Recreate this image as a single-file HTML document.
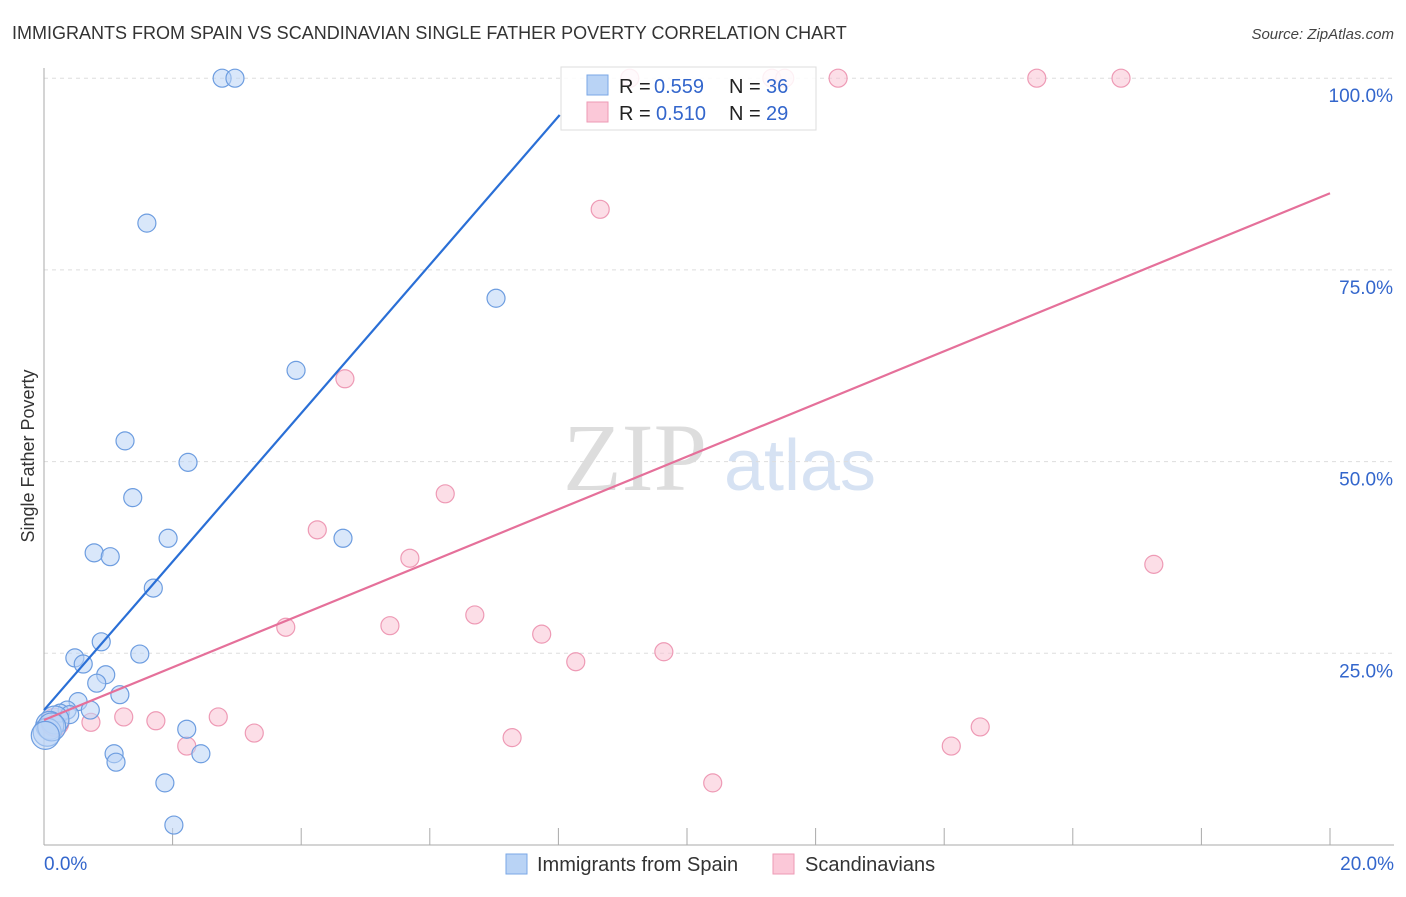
<!DOCTYPE html>
<html><head><meta charset="utf-8"><style>
body{margin:0;background:#fff;font-family:"Liberation Sans",sans-serif}
</style></head><body>
<svg width="1406" height="892" xmlns="http://www.w3.org/2000/svg" font-family="Liberation Sans, sans-serif">
<text x="12" y="39" font-size="18" fill="#333">IMMIGRANTS FROM SPAIN VS SCANDINAVIAN SINGLE FATHER POVERTY CORRELATION CHART</text>
<text x="1394" y="39" font-size="15" fill="#444" text-anchor="end" font-style="italic">Source: ZipAtlas.com</text>
<text x="34" y="456" font-size="18" fill="#333" text-anchor="middle" transform="rotate(-90 34 456)">Single Father Poverty</text>
<g><text x="635" y="490" font-size="96" fill="#ddd" font-family="Liberation Serif, serif" text-anchor="middle">ZIP</text><text x="800" y="490" font-size="72" fill="#d6e2f3" text-anchor="middle">atlas</text></g>
<g id="grid"></g><g id="axes"></g><g id="marks"></g>
<g>
<rect x="561" y="67" width="255" height="63" fill="#fff" fill-opacity="0.85" stroke="#ddd"/>
<rect x="587" y="75" width="21" height="20" fill="#b9d3f5" stroke="#7aa7e6"/>
<rect x="587" y="102" width="21" height="20" fill="#fbc8d8" stroke="#ee9ab5"/>
<text x="619" y="93" font-size="20" fill="#222">R =</text>
<text x="654" y="93" font-size="20" fill="#3366cc">0.559</text>
<text x="729" y="93" font-size="20" fill="#222">N =</text>
<text x="766" y="93" font-size="20" fill="#3366cc">36</text>
<text x="619" y="120" font-size="20" fill="#222">R =</text>
<text x="656" y="120" font-size="20" fill="#3366cc">0.510</text>
<text x="729" y="120" font-size="20" fill="#222">N =</text>
<text x="766" y="120" font-size="20" fill="#3366cc">29</text>
</g>
<g>
<rect x="506" y="854" width="21" height="20" fill="#b9d3f5" stroke="#7aa7e6"/>
<text x="537" y="871" font-size="20" fill="#333">Immigrants from Spain</text>
<rect x="773" y="854" width="21" height="20" fill="#fbc8d8" stroke="#ee9ab5"/>
<text x="805" y="871" font-size="20" fill="#333">Scandinavians</text>
</g>
</svg>
<script>
const blueX=[2.77,2.97,1.60,7.03,3.92,1.26,2.24,1.38,1.93,4.65,0.78,1.03,1.70,0.89,0.48,1.49,0.61,0.96,0.82,1.18,0.53,0.36,0.72,0.25,0.40,0.17,0.09,0.05,2.22,1.09,1.12,2.44,1.88,2.02,0.12,0.02];
const blueY=[100,100,81.1,71.3,61.9,52.7,49.9,45.3,40.0,40.0,38.1,37.6,33.5,26.5,24.4,24.9,23.6,22.2,21.1,19.6,18.7,17.6,17.6,17.2,17.0,16.3,15.6,14.7,15.1,11.9,10.8,11.9,8.1,2.6,15.4,14.3];
const pinkX=[9.11,11.32,11.52,12.35,15.44,16.75,8.65,4.68,6.24,4.25,5.69,17.26,3.76,5.38,6.70,7.74,8.27,9.64,1.24,1.74,2.71,0.73,2.22,3.27,7.28,14.11,14.56,10.40,0.17];
const pinkY=[100,100,100,100,100,100,82.9,60.8,45.8,41.1,37.4,36.6,28.4,28.6,30.0,27.5,23.9,25.2,16.7,16.2,16.7,16.0,12.9,14.6,14.0,12.9,15.4,8.1,16.0];
const blueLine=[[0,17.6],[8.02,95.2]];
const pinkLine=[[0,16.3],[20,85]];
const yTicks=[25,50,75,100];
const xTicks=[0,2,4,6,8,10,12,14,16,18,20];
const NS='http://www.w3.org/2000/svg';
const sx=v=>44+v*64.3, sy=v=>845-v*7.668;
function mk(tag,a,p){const e=document.createElementNS(NS,tag);for(const k in a)e.setAttribute(k,a[k]);document.getElementById(p).appendChild(e);return e;}
yTicks.forEach(t=>{
 const l=mk('line',{x1:44,x2:1394,y1:sy(t),y2:sy(t),stroke:'#ddd','stroke-dasharray':'4,4'},'grid');
 
 
 const tx=mk('text',{x:1393,y:sy(t)+24,'font-size':19,fill:'#3366cc','text-anchor':'end'},'axes');
 tx.textContent=t.toFixed(1)+'%';
 
 
});
const ax=mk('line',{x1:44,x2:44,y1:68,y2:845,stroke:'#aaa'},'axes');


const bx=mk('line',{x1:44,x2:1394,y1:845,y2:845,stroke:'#aaa'},'axes');


xTicks.forEach(t=>{
 const l=mk('line',{x1:sx(t),x2:sx(t),y1:828,y2:845,stroke:'#aaa'},'axes');
 
 
});
[[0,'start'],[20,'end']].forEach(([t,a])=>{
 const tx=mk('text',{x:t==0?44:1394,y:870,'font-size':19,fill:'#3366cc','text-anchor':a},'axes');
 tx.textContent=t.toFixed(1)+'%';
 
 
});
function pts(X,Y,fill,stroke,name){
 X.forEach((x,i)=>{
  const r=(x<0.2)?14:9;
  const c=mk('circle',{cx:sx(x),cy:sy(Y[i]),r:r,fill:fill,'fill-opacity':0.55,stroke:stroke,'stroke-width':1.2},'marks');
  
  
 });
}
pts(pinkX,pinkY,'#f9c3d4','#ee9ab5','scandinavians-point');
pts(blueX,blueY,'#b9d3f5','#6d9de0','spain-point');
function line(L,col,name){
 const l=mk('line',{x1:sx(L[0][0]),y1:sy(L[0][1]),x2:sx(L[1][0]),y2:sy(L[1][1]),stroke:col,'stroke-width':2.2},'marks');
 
 
}
line(blueLine,'#2a6fd6','spain-trend-line');
line(pinkLine,'#e5709a','scandinavians-trend-line');
</script>
</body></html>
